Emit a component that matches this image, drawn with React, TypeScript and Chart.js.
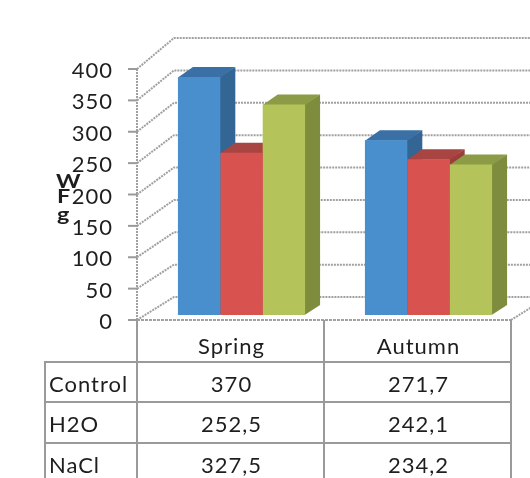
import React, { useEffect, useRef } from "react";
import { Chart, registerables } from "chart.js";

Chart.register(...registerables);

// ---- data ----
const categories = ["Spring", "Autumn"];
const seriesNames = ["Control", "H2O", "NaCl"];
const controlValues = [370, 271.7];
const h2oValues = [252.5, 242.1];
const naclValues = [327.5, 234.2];
const yMin = 0;
const yMax = 400;
const yStep = 50;
const axisTitleLetters = ["W", "F", "g"];

// ---- styles ----
const frontColors = ["#4A8FCD", "#D8534F", "#B4C45A"];
const topColors = ["#3A70A6", "#A84441", "#8C9B46"];
const sideColors = ["#336595", "#9C3D3A", "#7E8C3D"];
const FONT = "Lato, 'Open Sans', sans-serif";
const TEXT = "#1e1e1e";
const LINE = "#a0a0a0";
const DX = 15;
const DY = -10;

const fmt = (v: number) => String(v).replace(".", ",");

const threeD = {
  id: "threeD",
  beforeDraw(chart: any) {
    const ctx = chart.ctx;
    ctx.letterSpacing = "1px";
    ctx.fillStyle = "#ffffff";
    ctx.fillRect(0, 0, chart.width, chart.height);
  },
  beforeDatasetsDraw(chart: any) {
    const ctx = chart.ctx;
    const ys = chart.scales.y;
    const xs = chart.scales.x;
    const catW = xs.getPixelForValue(1) - xs.getPixelForValue(0);
    const frontX = xs.getPixelForValue(0) - catW / 2 - 11;
    const backX = frontX + 37;
    const rightX = frontX + catW * categories.length;
    ctx.save();
    ctx.strokeStyle = LINE;
    ctx.lineWidth = 2;
    ctx.setLineDash([2, 1]);
    const y0 = ys.getPixelForValue(0);
    for (let v = yMin; v <= yMax; v += yStep) {
      const fy = ys.getPixelForValue(v);
      const by = fy - 23 - (8 * v) / 400;
      ctx.beginPath();
      ctx.moveTo(frontX, fy);
      ctx.lineTo(backX, by);
      ctx.lineTo(chart.width, by);
      ctx.stroke();
    }
    // floor right edge
    ctx.beginPath();
    ctx.moveTo(rightX, y0);
    ctx.lineTo(rightX + 37, y0 - 23);
    ctx.stroke();
    // front axis line
    ctx.beginPath();
    ctx.moveTo(frontX, ys.getPixelForValue(yMax));
    ctx.lineTo(frontX, y0);
    ctx.stroke();
    ctx.setLineDash([]);
    ctx.lineWidth = 2;
    ctx.strokeStyle = "#9a9a9a";
    for (let v = yMin; v <= yMax; v += yStep) {
      const fy = ys.getPixelForValue(v);
      ctx.beginPath();
      ctx.moveTo(frontX - 9, fy);
      ctx.lineTo(frontX, fy);
      ctx.stroke();
    }
    // 3D faces of bars
    for (let i = 0; i < categories.length; i++) {
      for (let d = 0; d < chart.data.datasets.length; d++) {
        const el = chart.getDatasetMeta(d).data[i];
        const { x, y, base, width } = el.getProps(["x", "y", "base", "width"], true);
        const l = x - width / 2;
        const r = x + width / 2;
        ctx.fillStyle = sideColors[d];
        ctx.beginPath();
        ctx.moveTo(r - 0.5, y);
        ctx.lineTo(r + DX, y + DY);
        ctx.lineTo(r + DX, base + DY);
        ctx.lineTo(r - 0.5, base);
        ctx.closePath();
        ctx.fill();
        ctx.fillStyle = topColors[d];
        ctx.beginPath();
        ctx.moveTo(l, y + 0.5);
        ctx.lineTo(l + DX, y + DY);
        ctx.lineTo(r + DX, y + DY);
        ctx.lineTo(r, y + 0.5);
        ctx.closePath();
        ctx.fill();
      }
    }
    ctx.restore();
  },
  afterDraw(chart: any) {
    const ctx = chart.ctx;
    const ys = chart.scales.y;
    const xs = chart.scales.x;
    const catW = xs.getPixelForValue(1) - xs.getPixelForValue(0);
    const frontX = xs.getPixelForValue(0) - catW / 2 - 11;
    const y0 = ys.getPixelForValue(0);
    const cols = categories.map((_, i) => frontX + catW * i);
    const rightX = frontX + catW * categories.length;
    const labelLeft = 45;
    const rowTops = [362, 402, 443];
    const bottom = chart.height;
    ctx.save();
    ctx.letterSpacing = "1px";
    // floor front line
    ctx.strokeStyle = LINE;
    ctx.lineWidth = 2;
    ctx.setLineDash([3, 1]);
    ctx.beginPath();
    ctx.moveTo(frontX, y0);
    ctx.lineTo(rightX, y0);
    ctx.stroke();
    ctx.setLineDash([]);
    // table grid
    ctx.strokeStyle = "#9a9a9a";
    ctx.lineWidth = 2;
    ctx.beginPath();
    [...cols, rightX].forEach((cx) => {
      ctx.moveTo(cx, y0);
      ctx.lineTo(cx, bottom);
    });
    ctx.moveTo(labelLeft, rowTops[0]);
    ctx.lineTo(labelLeft, bottom);
    rowTops.forEach((ry) => {
      ctx.moveTo(labelLeft - 1, ry);
      ctx.lineTo(rightX + 1, ry);
    });
    ctx.stroke();
    // table text
    ctx.fillStyle = TEXT;
    ctx.font = `22px ${FONT}`;
    ctx.textBaseline = "alphabetic";
    ctx.textAlign = "center";
    categories.forEach((c, i) => {
      ctx.fillText(c, cols[i] + catW / 2 + 1, 354);
    });
    const values = [controlValues, h2oValues, naclValues];
    seriesNames.forEach((s, r) => {
      const by = rowTops[r] + 30;
      ctx.textAlign = "left";
      ctx.fillText(s, labelLeft + 4, by);
      ctx.textAlign = "center";
      values[r].forEach((v, i) => {
        ctx.fillText(fmt(v), cols[i] + catW / 2 + 1, by);
      });
    });
    // axis title letters (stacked, slightly widened)
    ctx.letterSpacing = "0px";
    ctx.font = `bold 18px ${FONT}`;
    ctx.textAlign = "left";
    const ty = [188, 203, 221];
    const tx = [56, 57, 57];
    axisTitleLetters.forEach((t, k) => {
      ctx.save();
      ctx.translate(tx[k], ty[k]);
      ctx.scale(1.3, 1);
      ctx.fillText(t, 0, 0);
      ctx.restore();
    });
    ctx.restore();
  },
};

export default function App() {
  const ref = useRef<HTMLCanvasElement | null>(null);
  useEffect(() => {
    if (!ref.current) return;
    const chart = new Chart(ref.current, {
      type: "bar",
      data: {
        labels: categories,
        datasets: [controlValues, h2oValues, naclValues].map((vals, i) => ({
          label: seriesNames[i],
          data: vals,
          backgroundColor: frontColors[i],
          borderWidth: 0,
          yAxisID: "yb",
          barPercentage: 1,
          categoryPercentage: 0.68,
        })),
      },
      options: {
        animation: false,
        responsive: false,
        devicePixelRatio: 1,
        layout: { padding: { left: 0, right: 8, top: 69, bottom: 158 } },
        plugins: { legend: { display: false }, tooltip: { enabled: false } },
        scales: {
          x: { display: false },
          y: {
            min: yMin,
            max: yMax,
            ticks: {
              stepSize: yStep,
              font: { family: FONT, size: 22 },
              color: TEXT,
              padding: 35,
              labelOffset: 2,
            },
            grid: { display: false, drawTicks: false },
            border: { display: false },
            afterFit: (s: any) => {
              s.width = 148;
            },
          },
          yb: { display: false, min: -7.78, max: 382.6 },
        },
      } as any,
      plugins: [threeD],
    });
    return () => chart.destroy();
  }, []);
  return (
    <div style={{ position: "fixed", left: 0, top: 0, width: 530, height: 478, background: "#fff" }}>
      <canvas ref={ref} width={530} height={478} style={{ display: "block" }} />
    </div>
  );
}
